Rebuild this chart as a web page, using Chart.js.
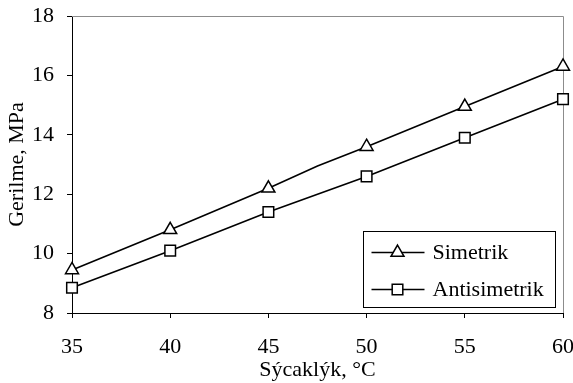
<!DOCTYPE html>
<html>
<head>
<meta charset="utf-8">
<script src="https://cdn.jsdelivr.net/npm/chart.js@4/dist/chart.umd.min.js"></script>
<style>
  html, body { margin: 0; padding: 0; background: #fff; }
  #wrap { width: 573px; height: 383px; }
</style>
</head>
<body>
<div id="wrap"><canvas id="gerilme"></canvas></div>
<script>
var temps = [35, 40, 45, 50, 55, 60];
var simetrik = [9.45, 10.8, 12.2, 13.6, 14.95, 16.3];
var antisimetrik = [8.85, 10.1, 11.4, 12.6, 13.9, 15.2];
// the Simetrik curve bends once between 45 and 50 (no marker there)
var simetrikBend = {x: 47.5, y: 12.95};

var serif = "'Liberation Serif', 'Times New Roman', serif";

var simPoints = temps.map(function (t, i) { return {x: t, y: simetrik[i]}; });
simPoints.splice(3, 0, simetrikBend);
var antiPoints = temps.map(function (t, i) { return {x: t, y: antisimetrik[i]}; });

// grey frame on top/right of the plot + boxed legend in the lower right
var frameAndLegend = {
  id: 'frameAndLegend',
  beforeDatasetsDraw: function (chart) {
    var ctx = chart.ctx, a = chart.chartArea;
    ctx.save();
    ctx.strokeStyle = '#8c8c8c';
    ctx.lineWidth = 1;
    ctx.beginPath();
    ctx.moveTo(a.left, a.top + 0.5);
    ctx.lineTo(a.right + 0.5, a.top + 0.5);
    ctx.lineTo(a.right + 0.5, a.bottom);
    ctx.stroke();
    ctx.restore();
  },
  afterDatasetsDraw: function (chart) {
    var ctx = chart.ctx, a = chart.chartArea;
    var w = 192, h = 76;
    var left = Math.round(a.right - 8 - w) + 0.5;
    var top = Math.round(a.bottom - 6 - h) + 0.5;
    ctx.save();
    ctx.fillStyle = '#fff';
    ctx.fillRect(left, top, w, h);
    ctx.strokeStyle = '#000';
    ctx.lineWidth = 1;
    ctx.strokeRect(left, top, w, h);
    var rows = [top + 21, top + 58];
    chart.data.datasets.forEach(function (ds, i) {
      var y = rows[i];
      ctx.strokeStyle = '#000';
      ctx.lineWidth = 1.5;
      ctx.beginPath();
      ctx.moveTo(left + 8, y);
      ctx.lineTo(left + 61, y);
      ctx.stroke();
      ctx.fillStyle = '#fff';
      ctx.strokeStyle = '#000';
      Chart.helpers.drawPoint(ctx, {
        pointStyle: ds.pointStyle,
        radius: 7.5,
        borderWidth: 1.5,
        rotation: 0
      }, left + 34, y);
      ctx.fillStyle = '#000';
      ctx.font = '22px ' + serif;
      ctx.textAlign = 'left';
      ctx.textBaseline = 'middle';
      ctx.fillText(ds.label, left + 69, y + 1);
    });
    ctx.restore();
  }
};

new Chart('gerilme', {
  type: 'line',
  data: {
    datasets: [{
      label: 'Simetrik',
      data: simPoints,
      borderColor: '#000',
      borderWidth: 1.6,
      pointStyle: 'triangle',
      pointRadius: function (c) { return c.raw === simetrikBend ? 0 : 7.5; },
      pointBorderWidth: 1.5,
      pointBorderColor: '#000',
      pointBackgroundColor: '#fff',
      tension: 0,
      clip: false
    }, {
      label: 'Antisimetrik',
      data: antiPoints,
      borderColor: '#000',
      borderWidth: 1.6,
      pointStyle: 'rect',
      pointRadius: 7.5,
      pointBorderWidth: 1.5,
      pointBorderColor: '#000',
      pointBackgroundColor: '#fff',
      tension: 0,
      clip: false
    }]
  },
  options: {
    responsive: true,
    maintainAspectRatio: false,
    animation: false,
    layout: {padding: {top: 16, right: 10, bottom: 0, left: 0}},
    plugins: {
      legend: {display: false},
      tooltip: {enabled: false}
    },
    scales: {
      x: {
        type: 'linear',
        min: 35,
        max: 60,
        afterFit: function (s) { s.height = 70; s.paddingLeft = 0; s.paddingRight = 0; },
        ticks: {stepSize: 5, padding: 16, color: '#000', font: {family: serif, size: 22}},
        grid: {drawOnChartArea: false, tickLength: 5, color: '#000'},
        border: {color: '#000', width: 1},
        title: {display: true, text: 'Sýcaklýk, °C', color: '#000',
                font: {family: serif, size: 22}, padding: {top: 0, bottom: 0}}
      },
      y: {
        min: 8,
        max: 18,
        afterFit: function (s) { s.width = 72; s.paddingTop = 0; s.paddingBottom = 0; },
        ticks: {stepSize: 2, padding: 13, color: '#000', font: {family: serif, size: 22}},
        grid: {drawOnChartArea: false, tickLength: 5, color: '#000'},
        border: {color: '#000', width: 1},
        title: {display: true, text: 'Gerilme, MPa', color: '#000',
                font: {family: serif, size: 22}, padding: {top: 4, bottom: 0}}
      }
    }
  },
  plugins: [frameAndLegend]
});
</script>
</body>
</html>
